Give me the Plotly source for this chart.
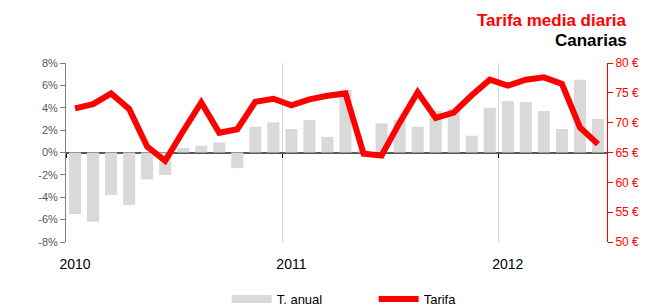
import plotly.graph_objects as go

# Data: 30 months, Jan 2010 .. Jun 2012
months = list(range(30))
t_anual = [-5.5, -6.2, -3.8, -4.7, -2.4, -2.0, 0.4, 0.6, 0.9, -1.4, 2.3, 2.7,
           2.1, 2.9, 1.4, 5.6, 0.2, 2.6, 2.9, 2.3, 3.7, 3.9, 1.5, 4.0,
           4.6, 4.5, 3.7, 2.1, 6.5, 3.0]
tarifa = [72.4, 73.1, 74.9, 72.3, 66.0, 63.6, 68.6, 73.4, 68.3, 68.9, 73.5, 74.0,
          72.9, 73.9, 74.5, 74.9, 64.8, 64.5, 70.0, 75.1, 70.8, 71.7, 74.6, 77.2,
          76.2, 77.2, 77.6, 76.5, 69.2, 66.4]
year_ticks = [0, 12, 24]
year_labels = ["2010", "2011", "2012"]
year_bounds = [-0.5, 11.5, 23.5]
pct_ticks = [-8, -6, -4, -2, 0, 2, 4, 6, 8]
pct_labels = ["-8%", "-6%", "-4%", "-2%", "0%", "2%", "4%", "6%", "8%"]
eur_ticks = [50, 55, 60, 65, 70, 75, 80]
eur_labels = ["50 €", "55 €", "60 €", "65 €", "70 €", "75 €", "80 €"]

FONT = "Liberation Sans, Arial, sans-serif"
RED = "#ff0000"
GREY = "#d9d9d9"

fig = go.Figure()
fig.add_trace(go.Bar(x=months, y=t_anual, name="T. anual", marker_color=GREY,
                     marker_line_width=0, xaxis="x", yaxis="y", showlegend=False))
# legend proxy for the bars (wide grey swatch, as in the reference)
fig.add_trace(go.Scatter(x=[None], y=[None], name="T. anual", mode="lines",
                         line=dict(color=GREY, width=8), xaxis="x", yaxis="y",
                         hoverinfo="skip"))
fig.add_trace(go.Scatter(x=months, y=tarifa, name="Tarifa", mode="lines",
                         line=dict(color=RED, width=6), xaxis="x2", yaxis="y2"))

fig.update_layout(
    width=647, height=299,
    margin=dict(l=58, r=48, t=55, b=65, autoexpand=False),
    paper_bgcolor="white", plot_bgcolor="white",
    font=dict(family=FONT, size=12, color="#000"),
    bargap=0.33,
    showlegend=True,
    legend=dict(orientation="h", x=0.297, xanchor="left", y=-0.235, yanchor="top",
                font=dict(size=13, color="#000"), itemwidth=40,
                entrywidth=92, traceorder="normal", tracegroupgap=0),
    xaxis=dict(
        range=[-0.5, 29.5], anchor="free", position=0.5,
        tickmode="array", tickvals=year_bounds, showticklabels=False,
        ticks="outside", ticklen=4, tickcolor="#000", tickwidth=1,
        showline=False, showgrid=True, gridcolor=GREY, gridwidth=1, zeroline=False,
    ),
    xaxis2=dict(
        range=[-0.5, 29.5], overlaying="x", anchor="y2", side="bottom",
        tickmode="array", tickvals=year_ticks, ticktext=year_labels,
        ticks="outside", ticklen=9, tickcolor="rgba(0,0,0,0)",
        showline=False, showgrid=False, zeroline=False,
        tickfont=dict(size=14, color="#000"),
    ),
    yaxis=dict(
        range=[-8, 8], tickmode="array", tickvals=pct_ticks, ticktext=pct_labels,
        showgrid=False, zeroline=True, zerolinecolor="#595959", zerolinewidth=1.5,
        showline=True, linecolor="#808080", linewidth=1,
        ticks="outside", ticklen=5, tickcolor="#808080",
        tickfont=dict(size=11, color="#595959"),
    ),
    yaxis2=dict(
        range=[50, 80], overlaying="y", side="right", anchor="x2",
        tickmode="array", tickvals=eur_ticks, ticktext=eur_labels,
        showgrid=False, zeroline=False,
        showline=True, linecolor=RED, linewidth=1,
        ticks="outside", ticklen=5, tickcolor=RED,
        tickfont=dict(size=12, color=RED),
    ),
)

fig.add_annotation(text="<b>Tarifa media diaria</b>", xref="paper", yref="paper",
                   x=1.04, y=1.24, xanchor="right", yanchor="middle", showarrow=False,
                   font=dict(size=17, color=RED, family=FONT))
fig.add_annotation(text="<b>Canarias</b>", xref="paper", yref="paper",
                   x=1.04, y=1.128, xanchor="right", yanchor="middle", showarrow=False,
                   font=dict(size=17, color="#000", family=FONT))

fig.write_html("out.html")
